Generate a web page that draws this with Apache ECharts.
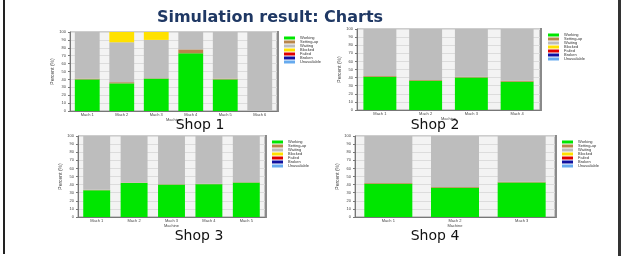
<!DOCTYPE html>
<html>
<head>
<meta charset="utf-8">
<script src="https://cdn.jsdelivr.net/npm/echarts@6/dist/echarts.min.js"></script>
<style>
  html, body { margin: 0; padding: 0; background: #fff; }
  #main { width: 625px; height: 256px; }
</style>
</head>
<body>
<div id="main"></div>
<script>
// 数据
var states = ['Working', 'Setting-up', 'Waiting', 'Blocked', 'Failed', 'Broken', 'Unavailable'];
var stateColors = ['#00e600', '#b8864b', '#bdbdbd', '#ffe100', '#e00000', '#1010a0', '#66aaee'];

var shop1Machines = ['Mach 1', 'Mach 2', 'Mach 3', 'Mach 4', 'Mach 5', 'Mach 6'];
var shop1Working = [40, 35, 41, 73, 40, 0];
var shop1Setup = [1, 1.5, 0.5, 5, 1, 0];
var shop1Waiting = [59, 50.5, 48.5, 22, 59, 100];
var shop1Blocked = [0, 13, 10, 0, 0, 0];

var shop2Machines = ['Mach 1', 'Mach 2', 'Mach 3', 'Mach 4'];
var shop2Working = [41, 36, 40, 35];
var shop2Setup = [1, 1, 1, 1];
var shop2Waiting = [58, 63, 59, 64];

var shop3Machines = ['Mach 1', 'Mach 2', 'Mach 3', 'Mach 4', 'Mach 5'];
var shop3Working = [33, 42, 40, 40.5, 42.5];
var shop3Setup = [0.5, 0.5, 0.5, 0.5, 0.5];
var shop3Waiting = [66.5, 57.5, 59.5, 59, 57];

var shop4Machines = ['Mach 1', 'Mach 2', 'Mach 3'];
var shop4Working = [41, 36, 42.5];
var shop4Setup = [1, 1, 1];
var shop4Waiting = [58, 63, 56.5];

var yTicks = ['0', '10', '20', '30', '40', '50', '60', '70', '80', '90', '100'];

var shops = [
    { cats: shop1Machines, values: [shop1Working, shop1Setup, shop1Waiting, shop1Blocked] },
    { cats: shop2Machines, values: [shop2Working, shop2Setup, shop2Waiting] },
    { cats: shop3Machines, values: [shop3Working, shop3Setup, shop3Waiting] },
    { cats: shop4Machines, values: [shop4Working, shop4Setup, shop4Waiting] }
];

// 布局
var grids = [
    { left: 70, top: 32, width: 207, height: 79 },
    { left: 357, top: 29, width: 183, height: 81 },
    { left: 78, top: 136, width: 187, height: 81 },
    { left: 355, top: 136, width: 200, height: 81 }
];
var legendPos = [
    { left: 279, top: 31 },
    { left: 543, top: 28 },
    { left: 267, top: 135 },
    { left: 557, top: 135 }
];

var myChart = echarts.init(document.getElementById('main'));

var grid = [], xAxis = [], yAxis = [], series = [], legend = [], graphic = [];

grids.forEach(function (g, i) {
    grid.push({
        left: g.left, top: g.top, width: g.width, height: g.height,
        show: true, backgroundColor: '#f3f3f3', borderColor: '#9a9a9a', borderWidth: 1
    });
    xAxis.push({
        type: 'category', gridIndex: i, data: shops[i].cats,
        name: 'Machine', nameLocation: 'middle', nameGap: 7,
        nameTextStyle: { fontSize: 4, color: '#444' },
        axisLine: { lineStyle: { color: '#777' } },
        axisTick: { show: false },
        axisLabel: { fontSize: 4, color: '#444', margin: 2 },
        splitLine: { show: false }
    });
    yAxis.push({
        type: 'value', gridIndex: i, min: 0, max: 100, interval: 10,
        name: 'Percent (%)', nameLocation: 'middle', nameGap: 10,
        nameTextStyle: { fontSize: 5, color: '#444' },
        axisLine: { show: true, lineStyle: { color: '#777' } },
        axisTick: { show: true, length: 2, lineStyle: { color: '#777' } },
        axisLabel: { fontSize: 4, color: '#444', margin: 4,
            formatter: function (v) { return yTicks[Math.round(v / 10)]; } },
        splitLine: { lineStyle: { color: '#dcdcdc' } }
    });
    states.forEach(function (s, k) {
        var vals = shops[i].values[k];
        series.push({
            name: s, type: 'bar', stack: 'shop' + i,
            xAxisIndex: i, yAxisIndex: i,
            barWidth: '72%',
            itemStyle: { color: stateColors[k] },
            data: vals ? vals : shops[i].cats.map(function () { return 0; })
        });
    });
    legend.push({
        orient: 'vertical', left: legendPos[i].left, top: legendPos[i].top,
        data: states, itemWidth: 11, itemHeight: 3, itemGap: 0,
        icon: 'rect', selectedMode: false,
        textStyle: { fontSize: 4, color: '#333' }
    });
    // 右侧深色边框
    graphic.push({
        type: 'rect', shape: { x: g.left + g.width, y: g.top - 1, width: 2, height: g.height + 2 },
        style: { fill: '#8a8a8a' }
    });
});

// 外框
graphic.push({ type: 'rect', shape: { x: 3, y: 0, width: 2, height: 254 }, style: { fill: '#222' } });
graphic.push({ type: 'rect', shape: { x: 618, y: 0, width: 3, height: 256 }, style: { fill: '#333' } });

var captionStyle = { fontFamily: 'DejaVu Sans', fontSize: 14, fontWeight: 'normal', color: '#111' };

var option = {
    animation: false,
    title: [
        { text: 'Simulation result: Charts', left: 265, top: 5, textAlign: 'center',
          textStyle: { fontFamily: 'DejaVu Sans', fontSize: 16, fontWeight: 'bold', color: '#1f3864' } },
        { text: 'Shop 1', left: 195, top: 113, textAlign: 'center', textStyle: captionStyle },
        { text: 'Shop 2', left: 430, top: 113, textAlign: 'center', textStyle: captionStyle },
        { text: 'Shop 3', left: 194, top: 224, textAlign: 'center', textStyle: captionStyle },
        { text: 'Shop 4', left: 430, top: 224, textAlign: 'center', textStyle: captionStyle }
    ],
    legend: legend,
    grid: grid,
    xAxis: xAxis,
    yAxis: yAxis,
    series: series,
    graphic: graphic
};

myChart.setOption(option);
</script>
</body>
</html>
